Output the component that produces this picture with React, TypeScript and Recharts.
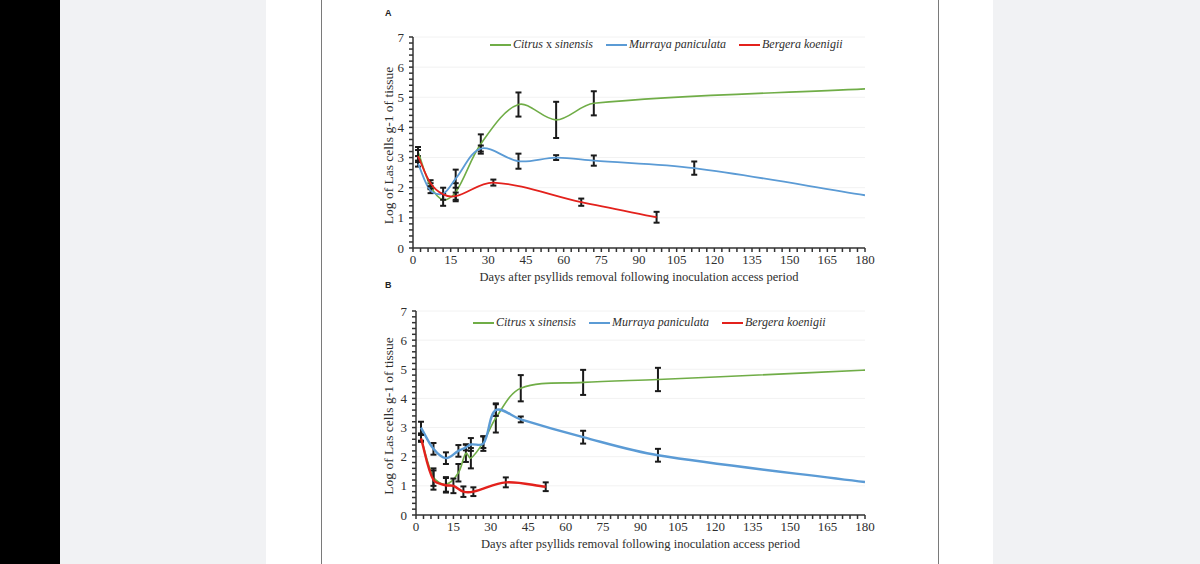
import React from 'react'
import { LineChart, Line, XAxis, YAxis, ErrorBar, CartesianGrid } from 'recharts'

type Pt = { x: number; y: number; e?: number }

const C = { green: '#70ad47', blue: '#5b9bd5', red: '#e3211c', axis: '#333', text: '#2e2e2e', grid: '#f2f2f2', bar: '#1a1a1a' }
const FONT = '"Liberation Serif", "Times New Roman", serif'

const xMajor = [0, 15, 30, 45, 60, 75, 90, 105, 120, 135, 150, 165, 180]
const xTicks = Array.from({ length: 61 }, (_, i) => i * 3)
const yMajor = [0, 1, 2, 3, 4, 5, 6, 7]
const yTicks = Array.from({ length: 36 }, (_, i) => i / 5)

const xTitle = 'Days after psyllids removal following inoculation access period'
const yTitle = 'Log of Las cells g-1 of tissue'

// panel A
const citrusA: Pt[] = [
  { x: 2, y: 3.2, e: 0.15 }, { x: 7, y: 2.05, e: 0.1 }, { x: 12, y: 1.6, e: 0.2 }, { x: 17, y: 1.85, e: 0.3 },
  { x: 27, y: 3.45, e: 0.32 }, { x: 42, y: 4.76, e: 0.4 }, { x: 57, y: 4.25, e: 0.6 }, { x: 72, y: 4.8, e: 0.4 },
  { x: 180, y: 5.28 },
]
const murrayaA: Pt[] = [
  { x: 2, y: 2.8, e: 0.1 }, { x: 7, y: 1.9, e: 0.08 }, { x: 12, y: 1.8, e: 0.2 }, { x: 17, y: 2.3, e: 0.3 },
  { x: 27, y: 3.3, e: 0.1 }, { x: 42, y: 2.88, e: 0.25 }, { x: 57, y: 3.0, e: 0.08 }, { x: 72, y: 2.9, e: 0.17 },
  { x: 112, y: 2.65, e: 0.22 }, { x: 180, y: 1.75 },
]
const bergeraA: Pt[] = [
  { x: 2, y: 3.05, e: 0.2 }, { x: 7, y: 2.15, e: 0.1 }, { x: 12, y: 1.78 }, { x: 17, y: 1.72, e: 0.12 },
  { x: 32, y: 2.17, e: 0.1 }, { x: 67, y: 1.52, e: 0.12 }, { x: 97, y: 1.02, e: 0.18 },
]

// panel B
const citrusB: Pt[] = [
  { x: 2, y: 2.65, e: 0.1 }, { x: 7, y: 1.3, e: 0.3 }, { x: 12, y: 1.05, e: 0.25 }, { x: 17, y: 1.45, e: 0.3 },
  { x: 20, y: 2.12, e: 0.3 }, { x: 22, y: 1.95, e: 0.35 }, { x: 27, y: 2.5, e: 0.2 }, { x: 32, y: 3.33, e: 0.5 },
  { x: 42, y: 4.35, e: 0.45 }, { x: 67, y: 4.55, e: 0.43 }, { x: 97, y: 4.65, e: 0.4 }, { x: 180, y: 4.97 },
]
const murrayaB: Pt[] = [
  { x: 2, y: 3.0, e: 0.2 }, { x: 7, y: 2.27, e: 0.2 }, { x: 12, y: 1.95, e: 0.2 }, { x: 17, y: 2.2, e: 0.2 },
  { x: 20, y: 2.32, e: 0.1 }, { x: 22, y: 2.42, e: 0.22 }, { x: 27, y: 2.45, e: 0.25 }, { x: 32, y: 3.6, e: 0.2 },
  { x: 42, y: 3.28, e: 0.1 }, { x: 67, y: 2.67, e: 0.22 }, { x: 97, y: 2.05, e: 0.22 }, { x: 180, y: 1.13 },
]
const bergeraB: Pt[] = [
  { x: 2, y: 2.63, e: 0.12 }, { x: 7, y: 1.2, e: 0.33 }, { x: 12, y: 1.02, e: 0.25 }, { x: 15, y: 1.0, e: 0.25 },
  { x: 19, y: 0.8, e: 0.18 }, { x: 23, y: 0.8, e: 0.15 }, { x: 36, y: 1.12, e: 0.17 }, { x: 52, y: 0.97, e: 0.15 },
]

// Excel-like smoothed line; tangents scaled by chord lengths so uneven spacing doesn't loop
const excelSmooth = (ctx: any) => {
  let pts: [number, number][] = []
  const dist = (a: [number, number], b: [number, number]) => Math.hypot(b[0] - a[0], b[1] - a[1]) || 1e-6
  return {
    areaStart() {}, areaEnd() {},
    lineStart() { pts = [] },
    point(x: number, y: number) { pts.push([+x, +y]) },
    lineEnd() {
      if (!pts.length) return
      ctx.moveTo(pts[0][0], pts[0][1])
      for (let i = 0; i < pts.length - 1; i++) {
        const p0 = pts[i - 1] || pts[i], p1 = pts[i], p2 = pts[i + 1], p3 = pts[i + 2] || p2
        const d01 = i > 0 ? dist(p0, p1) : 0, d12 = dist(p1, p2), d23 = pts[i + 2] ? dist(p2, p3) : 0
        const k1 = d12 / (3 * (d01 + d12)), k2 = d12 / (3 * (d12 + d23))
        ctx.bezierCurveTo(
          p1[0] + (p2[0] - p0[0]) * k1, p1[1] + (p2[1] - p0[1]) * k1,
          p2[0] - (p3[0] - p1[0]) * k2, p2[1] - (p3[1] - p1[1]) * k2,
          p2[0], p2[1])
      }
    },
  }
}

const TickText = (props: any) => {
  const { x, y, payload, tickFormatter, textAnchor, orientation } = props
  const label = tickFormatter ? tickFormatter(payload.value) : payload.value
  if (label === '') return null
  return (
    <text x={x} y={y} dy={orientation === 'bottom' ? '0.71em' : '0.35em'} textAnchor={textAnchor}
      style={{ fontSize: 13, fill: C.text, fontFamily: FONT }}>{label}</text>
  )
}

const YLabel = (props: any) => {
  const { x, y, height } = props.viewBox
  const cx = x + 28, cy = y + height / 2 + 3
  return (
    <text x={cx} y={cy} transform={`rotate(-90 ${cx} ${cy})`} textAnchor="middle" dominantBaseline="central"
      style={{ fontSize: 13.5, fill: C.text, fontFamily: FONT }}>{yTitle}</text>
  )
}

function Panel({ series, top, height, mTop, yw, widths }: {
  series: Pt[][]; top: number; height: number; mTop: number; yw: number; widths: number[]
}) {
  const colors = [C.green, C.blue, C.red]
  return (
    <div style={{ position: 'absolute', left: 360, top }}>
      <LineChart width={520} height={height} margin={{ top: mTop, right: 15, bottom: 11, left: 0 }}
        style={{ fontFamily: FONT }}>
        <CartesianGrid vertical={false} stroke={C.grid} horizontalValues={yMajor} />
        <XAxis type="number" dataKey="x" domain={[0, 180]} ticks={xTicks} interval={0} height={36}
          tickFormatter={(v: number) => (xMajor.includes(v) ? String(v) : '')}
          tick={<TickText />} tickSize={4} tickMargin={3} stroke={C.axis} strokeWidth={1.5} allowDataOverflow
          label={{ value: xTitle, position: 'insideBottom', offset: 3, style: { fontSize: 12.5, fill: C.text, fontFamily: FONT } }} />
        <YAxis type="number" domain={[0, 7]} ticks={yTicks} interval={0} width={yw}
          tickFormatter={(v: number) => (Number.isInteger(v) ? String(v) : '')}
          tick={<TickText />} tickSize={4} tickMargin={5} stroke={C.axis} strokeWidth={1.5} allowDataOverflow
          label={<YLabel />} />
        {series.map((d, i) => (
          <Line key={i} data={d} dataKey="y" type={excelSmooth as any} stroke={colors[i]} strokeWidth={widths[i]}
            dot={false} activeDot={false} isAnimationActive={false}>
            <ErrorBar dataKey="e" width={3} stroke={C.bar} strokeWidth={2} isAnimationActive={false} />
          </Line>
        ))}
      </LineChart>
    </div>
  )
}

const legendItems = [
  { color: C.green, label: <><i>Citrus</i> x <i>sinensis</i></> },
  { color: C.blue, label: <i>Murraya paniculata</i> },
  { color: C.red, label: <i>Bergera koenigii</i> },
]

function Legend2({ left, top, gap }: { left: number; top: number; gap: number }) {
  return (
    <div style={{ position: 'absolute', left, top, display: 'flex', alignItems: 'center', gap,
      fontFamily: FONT, fontSize: 12, color: C.text, whiteSpace: 'nowrap' }}>
      {legendItems.map((it, i) => (
        <div key={i} style={{ display: 'flex', alignItems: 'center' }}>
          <div style={{ width: 21, height: 2, background: it.color, marginRight: 2 }} />
          <span>{it.label}</span>
        </div>
      ))}
    </div>
  )
}

export default function App() {
  return (
    <div style={{ position: 'absolute', left: 0, top: 0, width: 1200, height: 564, background: '#fff', overflow: 'hidden' }}>
      <div style={{ position: 'absolute', left: 0, top: 0, width: 60, height: 564, background: '#000' }} />
      <div style={{ position: 'absolute', left: 60, top: 0, width: 206, height: 564, background: '#f1f2f4' }} />
      <div style={{ position: 'absolute', left: 993, top: 0, width: 207, height: 564, background: '#f1f2f4' }} />
      <div style={{ position: 'absolute', left: 321, top: 0, width: 1, height: 564, background: '#7a7a7a' }} />
      <div style={{ position: 'absolute', left: 938, top: 0, width: 1, height: 564, background: '#7a7a7a' }} />
      <div style={{ position: 'absolute', left: 385, top: 8, fontFamily: 'Arial, "Liberation Sans", sans-serif', fontSize: 9, fontWeight: 700, color: '#222' }}>A</div>
      <div style={{ position: 'absolute', left: 385, top: 280, fontFamily: 'Arial, "Liberation Sans", sans-serif', fontSize: 9, fontWeight: 700, color: '#222' }}>B</div>
      <Panel series={[citrusA, murrayaA, bergeraA]} top={20} height={275} mTop={17} yw={53} widths={[1.6, 1.8, 1.8]} />
      <Panel series={[citrusB, murrayaB, bergeraB]} top={290} height={272} mTop={21} yw={56} widths={[1.6, 2.4, 2.4]} />
      <Legend2 left={490} top={37} gap={13} />
      <Legend2 left={473} top={315} gap={13} />
    </div>
  )
}
